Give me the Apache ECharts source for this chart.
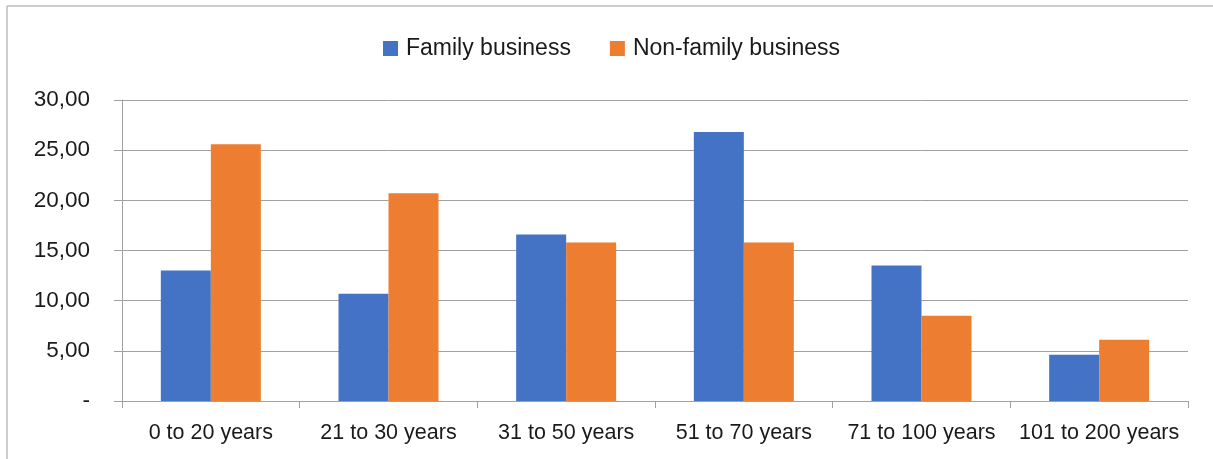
<!DOCTYPE html>
<html>
<head>
<meta charset="utf-8">
<script src="https://cdn.jsdelivr.net/npm/echarts@6/dist/echarts.min.js"></script>
<style>
  html, body { margin: 0; padding: 0; background: #fff; }
  #chart { width: 1213px; height: 459px; }
</style>
</head>
<body>
<div id="chart"></div>
<script>
// Company age bands
const categories = ['0 to 20 years', '21 to 30 years', '31 to 50 years', '51 to 70 years', '71 to 100 years', '101 to 200 years'];
// Share of firms (%) per age band
const familyBusiness = [13.0, 10.7, 16.6, 26.8, 13.5, 4.6];
const nonFamilyBusiness = [25.6, 20.7, 15.8, 15.8, 8.5, 6.1];
const seriesNames = ['Family business', 'Non-family business'];

const FONT = 'Liberation Sans';
const TEXT = '#1a1a1a';
const LINE = '#a0a0a0';

const chart = echarts.init(document.getElementById('chart'), null, { renderer: 'canvas' });

chart.setOption({
  animation: false,
  backgroundColor: '#fff',
  textStyle: { fontFamily: FONT },
  color: ['#4472C4', '#ED7D31'],
  graphic: [
    // chart frame (left and top edges)
    { type: 'line', shape: { x1: 7, y1: 6, x2: 7, y2: 459 }, style: { stroke: '#bdbdbd', lineWidth: 1.5 }, silent: true },
    { type: 'line', shape: { x1: 7, y1: 6, x2: 1213, y2: 6 }, style: { stroke: '#bdbdbd', lineWidth: 1.5 }, silent: true }
  ],
  legend: {
    data: seriesNames,
    top: 32,
    left: 378,
    itemWidth: 15,
    itemHeight: 15,
    itemGap: 39,
    icon: 'rect',
    textStyle: { fontFamily: FONT, fontSize: 23, color: TEXT, padding: [0, 0, 0, 3] }
  },
  grid: { left: 122, right: 25, top: 100, bottom: 58, containLabel: false },
  xAxis: {
    type: 'category',
    data: categories,
    axisLine: { show: true, lineStyle: { color: LINE, width: 1 } },
    axisTick: { show: true, length: 7, lineStyle: { color: LINE } },
    axisLabel: { fontFamily: FONT, fontSize: 21.5, color: TEXT, margin: 21, interval: 0 }
  },
  yAxis: {
    type: 'value',
    min: 0,
    max: 30,
    interval: 5,
    axisLine: { show: true, lineStyle: { color: LINE, width: 1 } },
    axisTick: { show: true, length: 8, lineStyle: { color: LINE } },
    splitLine: { show: true, lineStyle: { color: LINE, width: 1 } },
    axisLabel: {
      fontFamily: FONT, fontSize: 22.5, color: TEXT, margin: 32,
      formatter: v => v === 0 ? '-' : v.toFixed(2).replace('.', ',')
    }
  },
  series: [
    { name: seriesNames[0], type: 'bar', data: familyBusiness, barWidth: 50, barGap: '0%' },
    { name: seriesNames[1], type: 'bar', data: nonFamilyBusiness, barWidth: 50, barGap: '0%' }
  ]
});
</script>
</body>
</html>
